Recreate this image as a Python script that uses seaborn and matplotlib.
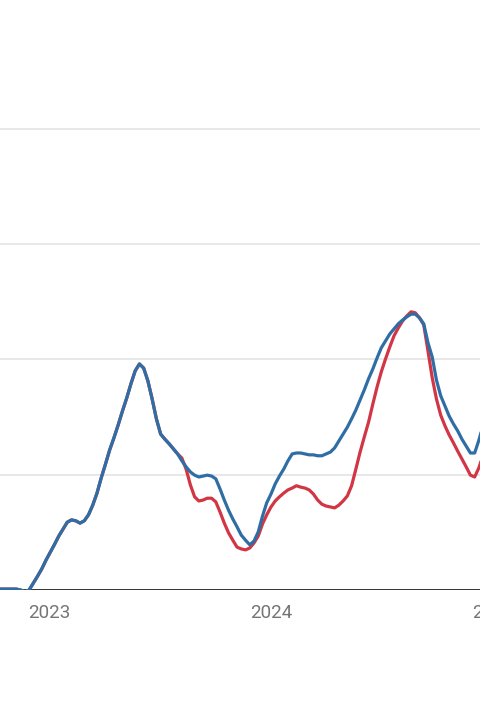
import numpy as np
import pandas as pd
import matplotlib
matplotlib.use("Agg")
import matplotlib.pyplot as plt
import matplotlib.dates as mdates
import seaborn as sns

# serie settimanali (dal 2022-10-10)
start_date = "2022-10-10"

blue_values = [
    0.2, 0.2, 0.2, 0.2, 0.2, 0.0, -0.4, 0.0, 1.5, 3.0,
    4.6, 6.5, 8.2, 9.9, 11.7, 13.2, 14.7, 15.2, 15.0, 14.5,
    15.0, 16.3, 18.4, 21.0, 24.3, 27.3, 30.4, 33.0, 35.8, 38.8,
    41.6, 44.7, 47.5, 49.0, 48.1, 45.3, 41.4, 37.1, 33.8, 32.7,
    31.7, 30.6, 29.5, 28.0, 26.7, 25.6, 24.9, 24.5, 24.7, 24.9,
    24.7, 24.1, 21.9, 19.5, 17.3, 15.4, 13.7, 11.9, 10.8, 9.8,
    10.6, 12.6, 16.0, 18.9, 20.8, 23.0, 24.7, 26.2, 28.0, 29.5,
    29.7, 29.7, 29.5, 29.3, 29.3, 29.1, 29.1, 29.5, 29.9, 30.8,
    32.3, 33.8, 35.3, 37.1, 39.0, 41.2, 43.4, 45.8, 47.9, 50.3,
    52.5, 54.0, 55.5, 56.6, 57.7, 58.5, 59.2, 59.8, 59.8, 59.0,
    57.7, 53.6, 50.5, 45.5, 42.1, 39.9, 37.7, 36.0, 34.5, 32.7,
    31.2, 29.7, 29.7, 32.5, 35.8,
]

red_values = blue_values[:42] + [
    29.5, 28.6, 26.2, 22.8, 20.2, 19.3, 19.5, 19.9,
    19.9, 19.1, 16.9, 14.5, 12.4, 10.8, 9.3, 8.9, 8.7, 9.1,
    10.2, 11.7, 14.3, 16.3, 18.0, 19.3, 20.2, 21.0, 21.7, 22.1,
    22.6, 22.3, 22.1, 21.7, 20.8, 19.5, 18.6, 18.2, 18.0, 17.8,
    18.4, 19.3, 20.4, 22.6, 26.2, 29.9, 33.2, 36.4, 40.3, 44.0,
    47.3, 50.1, 52.7, 55.1, 56.8, 58.3, 59.4, 60.3, 60.1, 59.0,
    57.5, 51.8, 46.0, 41.4, 37.9, 35.6, 33.6, 31.9, 30.1, 28.4,
    26.7, 24.9, 24.5, 26.5, 29.3,
]

y_ticks = [25, 50, 75, 100]
x_ticks = ["2023-01-01", "2024-01-01", "2025-01-01"]
x_tick_labels = ["2023", "2024", "2025"]

dates = pd.date_range(start_date, periods=len(blue_values), freq="7D")
df = pd.DataFrame({"date": dates, "blue": blue_values, "red": red_values})

sns.set_style("white")
plt.rcParams["font.family"] = ["Roboto", "DejaVu Sans"]

# gli assi escono oltre il bordo destro: il grafico è "tagliato" come nel riferimento
fig = plt.figure(figsize=(4.8, 7.2), dpi=100)
ax = fig.add_axes([0, 130 / 720, 1.1, 590 / 720])

# griglia e linea di base
for yt in y_ticks:
    ax.axhline(yt, color="#e6e6e6", lw=1.3, zorder=0)
ax.axhline(0, color="#333333", lw=1.4, zorder=1)

sns.lineplot(data=df, x="date", y="red", color="#d23645", lw=2.3, ax=ax, zorder=2)
sns.lineplot(data=df, x="date", y="blue", color="#2f6ea5", lw=2.3, ax=ax, zorder=3)

ax.set_yticks([])
ax.set_xticks([pd.Timestamp(t) for t in x_ticks])
ax.set_xticklabels(x_tick_labels, color="#757575", fontsize=13.5)
# i limiti dopo i tick, altrimenti set_xticks li allarga
ax.set_xlim(pd.Timestamp("2022-10-11"), pd.Timestamp("2025-02-28"))
ax.set_ylim(0, 127.9)
ax.tick_params(axis="x", length=0, pad=10)
ax.set_xlabel("")
ax.set_ylabel("")
for s in ax.spines.values():
    s.set_visible(False)

fig.savefig("out.png", dpi=100)
